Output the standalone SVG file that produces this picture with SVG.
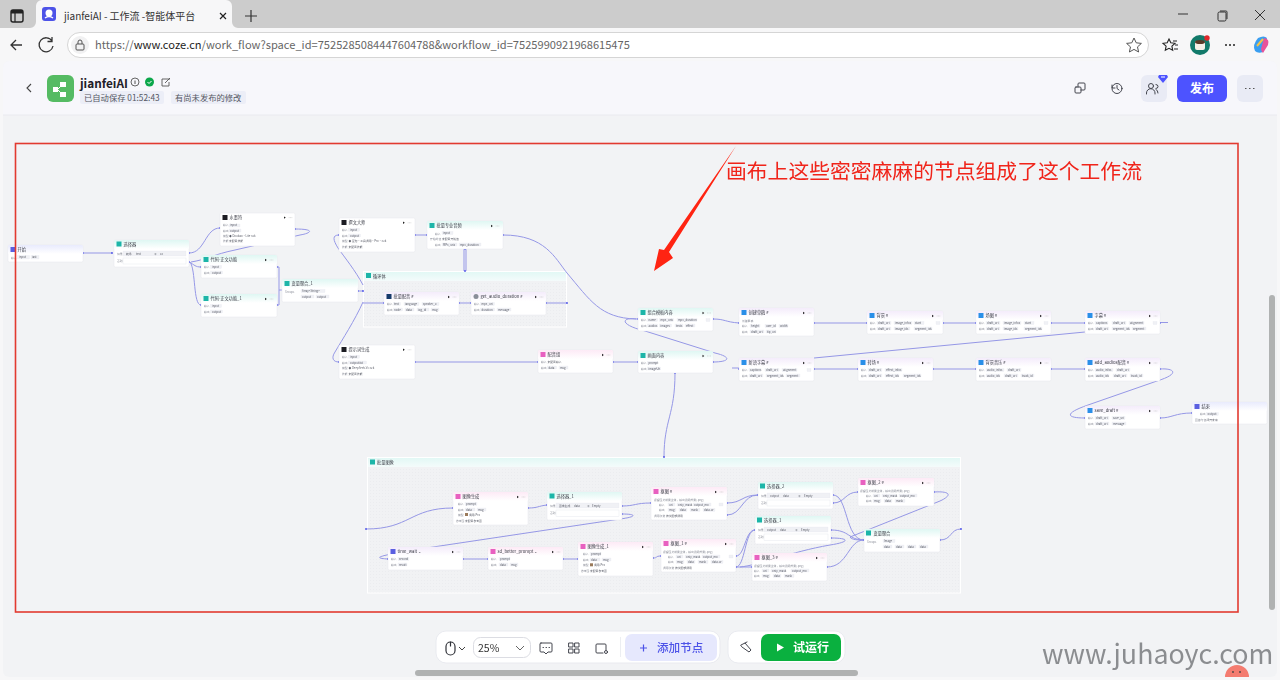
<svg xmlns="http://www.w3.org/2000/svg" width="1280" height="680" viewBox="0 0 1280 680">
<style>
text{font-family:"Noto Sans CJK SC","Noto Sans",sans-serif}
.card{fill:#fff;stroke:#e6e7ec;stroke-width:.5}
.t{font-size:4.2px;fill:#3a3c46}
.l{font-size:2.8px;fill:#8a8d98}
.x{font-size:2.8px;fill:#5a5d68}
.c{fill:#f0f1f5;stroke:#dfe1e8;stroke-width:.2}
.w{fill:#fff;stroke:#e2e4ea;stroke-width:.4}
.teal{fill:#1cb5a8}.blue{fill:#2a8fe8}.pink{fill:#e860c0}.dark{fill:#1b1b22}.purp{fill:#5a5fe0}.gray{fill:#8a8f99}
.cn path{fill:none;stroke:#9597e6;stroke-width:1}
.cn circle{fill:#4d53e8}
.box{fill:url(#dots);stroke:#fff;stroke-width:1}
.ic{fill:none;stroke:#2f3138;stroke-width:1.2;stroke-linecap:round;stroke-linejoin:round}
.ics{fill:none;stroke:#44464f;stroke-width:1;stroke-linecap:round;stroke-linejoin:round}
.bd{font-size:8.300px;fill:#555863}
</style>
<defs>
<linearGradient id="gt" x1="0" y1="0" x2="0" y2="1"><stop offset="0" stop-color="#dff7f3"/><stop offset="1" stop-color="#fff"/></linearGradient>
<linearGradient id="gb" x1="0" y1="0" x2="0" y2="1"><stop offset="0" stop-color="#f4ecfb"/><stop offset="1" stop-color="#fff"/></linearGradient>
<linearGradient id="gp" x1="0" y1="0" x2="0" y2="1"><stop offset="0" stop-color="#fdeaf6"/><stop offset="1" stop-color="#fff"/></linearGradient>
<linearGradient id="gu" x1="0" y1="0" x2="0" y2="1"><stop offset="0" stop-color="#e9ebfd"/><stop offset="1" stop-color="#fff"/></linearGradient>
<linearGradient id="gm" x1="0" y1="0" x2="0" y2="1"><stop offset="0" stop-color="#e2f8f5"/><stop offset="1" stop-color="#f4fbfb"/></linearGradient>
<pattern id="dots" width="3" height="3" patternUnits="userSpaceOnUse"><rect width="3" height="3" fill="#f1f2f4"/><circle cx="1.500" cy="1.500" r=".35" fill="#dcdde3"/></pattern>
<filter id="soft" x="-2%" y="-2%" width="104%" height="104%"><feGaussianBlur stdDeviation=".3"/></filter>
<g id="pd"><path d="M0,-1.200L1.800,0L0,1.200z" fill="#222"/><path d="M4.800,0h.6M6.200,0h.6M7.600,0h.6" stroke="#aaa" stroke-width=".6"/></g>
</defs>

<g id="browser">
<rect width="1280" height="680" fill="#f7f7f8"/>
<rect width="1280" height="28" fill="#cccccc"/>
<path d="M30,28a6,6 0 0 0 6,-6V6a6,6 0 0 1 6,-6H226a6,6 0 0 1 6,6V22a6,6 0 0 0 6,6z" fill="#f7f7f8"/>
<rect x="11" y="10" width="12" height="12" rx="2" fill="none" stroke="#222" stroke-width="1.400"/><rect x="11" y="10" width="12" height="3.500" fill="#222"/><path d="M15,13v9" stroke="#222" stroke-width="1.200"/>
<rect x="42" y="7" width="14" height="14" rx="3" fill="#4d53e8"/><circle cx="49" cy="13" r="3.500" fill="#fff"/><path d="M45,18q4,-3 8,0" stroke="#fff" stroke-width="1.400" fill="none"/>
<text x="64" y="20" font-size="10" fill="#333">jianfeiAI - 工作流 -智能体平台</text>
<path d="M220,13l6,6M226,13l-6,6" stroke="#222" stroke-width="1.200"/>
<path d="M245,16h12M251,10v12" stroke="#333" stroke-width="1.200"/>
<path d="M1178,14h10" stroke="#333"/><rect x="1218" y="12" width="8" height="9" rx="1.500" fill="none" stroke="#333"/><path d="M1220,11h6a1,1 0 0 1 1,1v7" fill="none" stroke="#333"/>
<path d="M1255,10l10,10M1265,10l-10,10" stroke="#333"/>
<path d="M22,45H11M16,40l-5,5l5,5" fill="none" stroke="#333" stroke-width="1.300"/>
<path d="M52,41a7,7 0 1 0 1,5M52,37v4.500h-4.500" fill="none" stroke="#333" stroke-width="1.300"/>
<rect x="67.500" y="32.500" width="1081" height="25" rx="12.500" fill="#fff" stroke="#d5d5d5"/>
<circle cx="80" cy="45" r="9" fill="#f1f1f2"/><rect x="76" y="44" width="8" height="6" rx="1" fill="none" stroke="#555"/><path d="M78,44v-2a2,2 0 0 1 4,0v2" fill="none" stroke="#555"/>
<text x="95" y="49" font-size="11.100" fill="#666" font-family="Noto Sans">https://<tspan fill="#222">www.coze.cn</tspan>/work_flow?space_id=7525285084447604788&amp;workflow_id=7525990921968615475</text>
<path d="M1134,38l2.200,4.800l5.200,.6l-3.900,3.500l1.100,5.100l-4.600,-2.600l-4.600,2.600l1.100,-5.100l-3.900,-3.500l5.200,-.6z" fill="none" stroke="#555"/>
<path d="M1169,39l1.800,3.800l4.200,.5l-3.100,2.900l.8,4.100l-3.700,-2l-3.700,2l.8,-4.100l-3.100,-2.900l4.200,-.5zM1173,41h4M1175,45h3M1174,49h4" fill="none" stroke="#222" stroke-width="1.100"/>
<circle cx="1200" cy="45" r="10" fill="#127a6a"/><rect x="1195" y="41" width="10" height="9" rx="2" fill="#f4efe6"/><ellipse cx="1200" cy="42" rx="5" ry="2" fill="#5a3a28"/><circle cx="1207" cy="38" r="2.700" fill="#e0292c"/>
<circle cx="1226" cy="45" r="1" fill="#222"/><circle cx="1230" cy="45" r="1" fill="#222"/><circle cx="1234" cy="45" r="1" fill="#222"/>
<path d="M1258,38q6,-3 9,0l-4,14q-5,2 -8,-1q-3,-6 3,-13z" fill="#3a9ef0"/><path d="M1264,38q6,1 4,7l-5,8q-2,-2 -2,-4z" fill="#e8549a"/><path d="M1257,46l6,-7" stroke="#f6c343" stroke-width="2"/>
</g>

<g id="page">
<rect x="3" y="61" width="1274" height="616" rx="6" fill="#f2f3f5"/>
<path d="M3,115V67a6,6 0 0 1 6,-6H1271a6,6 0 0 1 6,6V115z" fill="#f7f7fb"/>
<path d="M3,115H1277" stroke="#e9eaef"/>
<path d="M31,84l-4,4l4,4" fill="none" stroke="#444" stroke-width="1.100"/>
<rect x="47" y="75" width="27" height="27" rx="6" fill="#55bb63"/><path d="M60,82h6v5h-6zM60,92h6v5h-6zM53,87h5v5h-5z" fill="#fff"/><path d="M58,89l3,-3M58,90l3,3" stroke="#fff"/>
<text x="80" y="88" font-size="11.800" font-weight="700" fill="#1f2028">jianfeiAI</text>
<circle cx="135" cy="82" r="4" fill="none" stroke="#555" stroke-width=".9"/><path d="M135,80.500v3.500" stroke="#555"/>
<circle cx="149.500" cy="82" r="4.500" fill="#0ba74a"/><path d="M147.500,82l1.500,1.500l2.500,-2.500" stroke="#fff" fill="none"/>
<path d="M170,79h-8v7h7v-4M165,83l5,-5" fill="none" stroke="#555" stroke-width=".9"/>
<rect x="80" y="91" width="84" height="13" rx="2" fill="#eceef7"/><text x="84" y="100.500" class="bd">已自动保存 01:52:43</text>
<rect x="171" y="91" width="75" height="13" rx="2" fill="#eceef7"/><text x="175" y="100.500" class="bd">有尚未发布的修改</text>
<g class="ics"><rect x="1075" y="87" width="6" height="6" rx="1"/><path d="M1078,87v-3a1,1 0 0 1 1,-1h5a1,1 0 0 1 1,1v5a1,1 0 0 1 -1,1h-3"/><circle cx="1117" cy="88.500" r="5"/><path d="M1117,85.500v3l2,1.500M1112,85v3h3"/></g>
<rect x="1141" y="75" width="26" height="27" rx="6" fill="#e9ebf5"/><g class="ics"><circle cx="1151" cy="86" r="2.500"/><path d="M1146.500,94v-1a4,4 0 0 1 8.500,0v1M1156,84.500a2,2 0 0 1 0,4M1158,93q0,-3 -2,-3.500"/></g>
<path d="M1159,75h8l1,2l-5,6l-5,-6z" fill="#4d53ff"/><path d="M1161,77h4" stroke="#fff"/>
<rect x="1177" y="75" width="50" height="27" rx="6" fill="#4d53ff"/><text x="1202" y="93" text-anchor="middle" font-size="12" font-weight="700" fill="#fff">发布</text>
<rect x="1237" y="75" width="26" height="27" rx="6" fill="#e9ebf5"/><path d="M1245,88.500h1.500M1249,88.500h1.500M1253,88.500h1.500" stroke="#555"/>
</g>

<g id="canvas" filter="url(#soft)">
<g id="loop-box"><rect class="box" x="363.500" y="271.500" width="203" height="55.500"/><rect x="364" y="272" width="202" height="9" fill="url(#gm)"/><rect class="teal" x="366" y="273" width="5" height="5"/><text class="t" x="373" y="277.500">循环体</text></g>
<g id="batch-box"><rect class="box" x="367.500" y="457.500" width="593" height="135.500"/><rect x="368" y="458" width="592" height="9" fill="url(#gm)"/><rect class="teal" x="370" y="459.500" width="5" height="5"/><text class="t" x="377" y="464">批量图像</text></g>

<g id="connectors" class="cn">
<path d="M83,253H112"/>
<path d="M189,253C205,253 205,228 220,228"/>
<path d="M295,229C315,229 312,233 300,235L235,250C215,254 205,260 191,262"/>
<path d="M189,262C195,265 195,267 201,267"/>
<path d="M190,262C196,270 193,305 201,305"/>
<path d="M277,267H279V305H277"/><path d="M279,290H282"/>
<path d="M358,291H363"/>
<path d="M363,285C355,270 345,258 338,248C333,240 332,235 339,235"/>
<path d="M363,302C355,320 342,340 335,352C331,358 333,362 339,362"/>
<path d="M363,303H384"/>
<path d="M415,235H427"/>
<path d="M464,249V271M466,249V271"/>
<path d="M503,235C545,235 555,258 567,273C590,300 600,318 636,319"/>
<path d="M459,303H471M546,303H567"/>
<path d="M415,362H538M613,362H638"/>
<path d="M713,362C730,362 732,357 715,353L645,331C620,325 620,317 637,319"/>
<path d="M713,319C725,319 725,322 739,323"/>
<path d="M814,323H867M943,323H976M1051,323H1085"/>
<path d="M1160,322.500H1168"/>
<path d="M814,358L1085,332"/>
<path d="M732,368H739"/>
<path d="M814,369H858M933,369H976M1051,369H1085"/>
<path d="M1160,369C1175,368 1180,374 1157,381L1088,405C1065,413 1065,418 1085,418"/>
<path d="M1160,418C1172,418 1175,413 1192,413"/>
<path d="M675,373C675,415 664,420 664,457"/>
<path d="M366,529C410,529 410,508 453,508"/>
<path d="M528,508C538,508 538,506 547,505"/>
<path d="M622,506C635,506 635,503 651,503"/>
<path d="M622,514C638,514 636,517 620,519L433,547C375,556 372,558 388,559"/>
<path d="M463,559H488M563,559H578"/>
<path d="M653,558C658,558 655,556 661,556"/>
<path d="M727,503C742,503 742,495 758,495"/>
<path d="M727,515C742,515 742,495 758,495"/>
<path d="M833,495C848,495 845,540 864,540"/>
<path d="M833,503C845,503 845,492 858,492"/>
<path d="M934,492C950,491 953,495 940,501L850,537C852,540 858,540 864,540"/>
<path d="M831,530C850,530 848,540 864,540"/>
<path d="M831,538C850,538 850,542 830,545C790,552 760,565 740,567"/>
<path d="M736,556C745,556 745,530 755,530"/>
<path d="M736,567C745,567 745,530 755,530"/>
<path d="M736,567H752"/>
<path d="M827,567C848,567 848,540 864,540"/>
<path d="M940,540C952,540 950,529 961,529"/>
<circle cx="83" cy="253" r=".9"/><circle cx="112" cy="253" r=".9"/><circle cx="189" cy="253" r=".9"/><circle cx="189" cy="262" r=".9"/><circle cx="220" cy="228" r=".9"/><circle cx="295" cy="229" r=".9"/><circle cx="201" cy="267" r=".9"/><circle cx="201" cy="305" r=".9"/><circle cx="277" cy="267" r=".9"/><circle cx="277" cy="305" r=".9"/><circle cx="358" cy="291" r=".9"/><circle cx="363" cy="291" r=".9"/><circle cx="339" cy="235" r=".9"/><circle cx="339" cy="362" r=".9"/><circle cx="415" cy="235" r=".9"/><circle cx="427" cy="235" r=".9"/><circle cx="503" cy="235" r=".9"/><circle cx="465" cy="249" r=".9"/><circle cx="465" cy="271" r=".9"/><circle cx="384" cy="303" r=".9"/><circle cx="459" cy="303" r=".9"/><circle cx="471" cy="303" r=".9"/><circle cx="546" cy="303" r=".9"/><circle cx="567" cy="303" r=".9"/><circle cx="415" cy="362" r=".9"/><circle cx="538" cy="362" r=".9"/><circle cx="613" cy="362" r=".9"/><circle cx="638" cy="362" r=".9"/><circle cx="638" cy="319" r=".9"/><circle cx="713" cy="319" r=".9"/><circle cx="713" cy="362" r=".9"/><circle cx="739" cy="323" r=".9"/><circle cx="814" cy="323" r=".9"/><circle cx="867" cy="323" r=".9"/><circle cx="943" cy="323" r=".9"/><circle cx="976" cy="323" r=".9"/><circle cx="1051" cy="323" r=".9"/><circle cx="1085" cy="323" r=".9"/><circle cx="1160" cy="323" r=".9"/><circle cx="739" cy="369" r=".9"/><circle cx="814" cy="369" r=".9"/><circle cx="858" cy="369" r=".9"/><circle cx="933" cy="369" r=".9"/><circle cx="976" cy="369" r=".9"/><circle cx="1051" cy="369" r=".9"/><circle cx="1085" cy="369" r=".9"/><circle cx="1160" cy="369" r=".9"/><circle cx="1085" cy="418" r=".9"/><circle cx="1160" cy="418" r=".9"/><circle cx="1192" cy="413" r=".9"/><circle cx="675" cy="373" r=".9"/><circle cx="664" cy="457" r=".9"/><circle cx="366" cy="529" r=".9"/><circle cx="453" cy="508" r=".9"/><circle cx="528" cy="508" r=".9"/><circle cx="547" cy="505" r=".9"/><circle cx="622" cy="506" r=".9"/><circle cx="622" cy="514" r=".9"/><circle cx="651" cy="503" r=".9"/><circle cx="388" cy="559" r=".9"/><circle cx="463" cy="559" r=".9"/><circle cx="488" cy="559" r=".9"/><circle cx="563" cy="559" r=".9"/><circle cx="578" cy="559" r=".9"/><circle cx="653" cy="558" r=".9"/><circle cx="661" cy="556" r=".9"/><circle cx="727" cy="503" r=".9"/><circle cx="727" cy="515" r=".9"/><circle cx="758" cy="495" r=".9"/><circle cx="833" cy="495" r=".9"/><circle cx="833" cy="503" r=".9"/><circle cx="858" cy="492" r=".9"/><circle cx="934" cy="492" r=".9"/><circle cx="831" cy="530" r=".9"/><circle cx="831" cy="538" r=".9"/><circle cx="755" cy="530" r=".9"/><circle cx="736" cy="556" r=".9"/><circle cx="736" cy="567" r=".9"/><circle cx="752" cy="567" r=".9"/><circle cx="827" cy="567" r=".9"/><circle cx="864" cy="540" r=".9"/><circle cx="940" cy="540" r=".9"/><circle cx="961" cy="529" r=".9"/>
</g>

<g id="n-start" transform="translate(8,245)"><rect class="card" width="75" height="17" rx="1.500"/><rect width="75" height="9" rx="1.500" fill="url(#gu)"/><rect class="purp" x="2.500" y="2" width="5" height="5"/><text class="t" x="9.500" y="6.400">开始</text><text class="l" x="3" y="13.500">输入</text><rect class="c" x="9.500" y="10.500" width="12" height="3.500"/><text class="x" x="11" y="13.300">input</text><rect class="c" x="23" y="10.500" width="8" height="3.500"/><text class="x" x="24" y="13.300">last</text></g>
<g id="n-sel" transform="translate(114,240)"><rect class="card" width="75" height="27" rx="1.500"/><rect width="75" height="9" rx="1.500" fill="url(#gt)"/><rect class="teal" x="2.500" y="1.500" width="5" height="5"/><text class="t" x="9.500" y="6">选择器</text><rect class="c" x="9" y="11" width="63" height="5"/><text class="l" x="3" y="14.500">如果</text><text class="x" x="12" y="14.500">转场</text><text class="x" x="22" y="14.500">text</text><text class="x" x="40" y="14.500">≠</text><text class="x" x="46" y="14.500">10</text><rect class="w" x="9" y="18" width="63" height="6"/><text class="l" x="3" y="22">否则</text></g>
<g id="n-ink" transform="translate(220,213)"><rect class="card" width="75" height="33" rx="1.500"/><rect class="dark" x="2.500" y="2" width="5" height="5"/><text class="t" x="9.500" y="6.400">水墨符</text><use href="#pd" x="64" y="4.600"/><text class="l" x="3" y="13.300">输入</text><rect class="c" x="9" y="11" width="11" height="3"/><text class="x" x="10" y="13.300">input</text><text class="l" x="3" y="18.600">输出</text><rect class="c" x="9" y="16" width="12" height="3"/><text class="x" x="10" y="18.600">output</text><text class="l" x="3" y="24">模型</text><text class="x" x="9" y="24">◆ Doubao·Lite 32k</text><text class="l" x="3" y="29.400">技能</text><text class="x" x="9" y="29.400">未配置技能</text></g>
<g id="n-code" transform="translate(201,255)"><rect class="card" width="76" height="23" rx="1.500"/><rect width="76" height="9" rx="1.500" fill="url(#gt)"/><rect class="teal" x="2.500" y="2" width="5" height="5"/><text class="t" x="9.500" y="6.400">代码-正文功能</text><use href="#pd" x="64" y="5"/><text class="l" x="3" y="13.200">输入</text><rect class="c" x="9.500" y="10.500" width="11" height="3"/><text class="x" x="11" y="13.200">input</text><text class="l" x="3" y="18.800">输出</text><rect class="c" x="9.500" y="16" width="12" height="3"/><text class="x" x="11" y="18.800">output</text></g>
<g id="n-code1" transform="translate(201,294)"><rect class="card" width="76" height="23" rx="1.500"/><rect width="76" height="9" rx="1.500" fill="url(#gt)"/><rect class="teal" x="2.500" y="2" width="5" height="5"/><text class="t" x="9.500" y="6.400">代码-正文功能_1</text><use href="#pd" x="64" y="5"/><text class="l" x="3" y="13.200">输入</text><rect class="c" x="9.500" y="10.500" width="11" height="3"/><text class="x" x="11" y="13.200">input</text><text class="l" x="3" y="18.800">输出</text><rect class="c" x="9.500" y="16" width="12" height="3"/><text class="x" x="11" y="18.800">output</text></g>
<g id="n-agg1" transform="translate(282,279)"><rect class="card" width="76" height="23" rx="1.500"/><rect width="76" height="9" rx="1.500" fill="url(#gt)"/><rect class="teal" x="2.500" y="2" width="5" height="5"/><text class="t" x="9.500" y="6.400">变量聚合_1</text><text class="l" x="3" y="13.500">Group1</text><rect class="c" x="19" y="10.500" width="24" height="3"/><text class="x" x="20" y="13.200">Array&lt;String&gt;</text><rect class="c" x="19" y="16" width="13" height="3"/><text class="x" x="20" y="18.800">output</text><rect class="c" x="34" y="16" width="13" height="3"/><text class="x" x="35" y="18.800">output</text></g>
<g id="n-write" transform="translate(339,218)"><rect class="card" width="76" height="34" rx="1.500"/><rect class="dark" x="2.500" y="2" width="5" height="5"/><text class="t" x="9.500" y="6.400">撰文大师</text><use href="#pd" x="64" y="4.800"/><text class="l" x="3" y="13">输入</text><rect class="c" x="9.500" y="10.200" width="11" height="3"/><text class="x" x="11" y="13">input</text><text class="l" x="3" y="18.500">输出</text><rect class="c" x="9.500" y="16" width="12" height="3"/><text class="x" x="11" y="18.500">output</text><text class="l" x="3" y="24">模型</text><text class="x" x="9.500" y="24">◆ 豆包·工具调用·Pro·32k</text><text class="l" x="3" y="29.500">技能</text><text class="x" x="9.500" y="29.500">未配置技能</text></g>
<g id="n-batch" transform="translate(427,221)"><rect class="card" width="76" height="28" rx="1.500"/><rect width="76" height="9" rx="1.500" fill="url(#gt)"/><rect class="teal" x="2.500" y="2" width="5" height="5"/><text class="t" x="9.500" y="6.400">批量专业音频</text><use href="#pd" x="64" y="5"/><text class="l" x="8" y="13.500">输入</text><rect class="c" x="15" y="10.500" width="11" height="3"/><text class="x" x="16" y="13.300">input</text><text class="l" x="3" y="19">开始的值</text><text class="x" x="15" y="19">未配置开始值</text><text class="l" x="8" y="24.500">输出</text><rect class="c" x="15" y="22" width="15" height="3"/><text class="x" x="16" y="24.500">MP3_urls</text><rect class="c" x="32" y="22" width="22" height="3"/><text class="x" x="33" y="24.500">mp3_duration</text></g>
<g id="n-voice" transform="translate(384,292)"><rect class="card" width="75" height="23" rx="1.500"/><rect width="75" height="9" rx="1.500" fill="url(#gb)"/><rect x="2.500" y="2" width="5" height="5" fill="#173a6b"/><text class="t" x="9.500" y="6.400">批量配音 #</text><use href="#pd" x="64" y="5"/><text class="l" x="3" y="13.200">输入</text><rect class="c" x="9.500" y="10.500" width="7" height="3"/><text class="x" x="10" y="13.200">text</text><rect class="c" x="20" y="10.500" width="15" height="3"/><text class="x" x="21" y="13.200">language</text><rect class="c" x="38" y="10.500" width="17" height="3"/><text class="x" x="39" y="13.200">speaker_u</text><text class="l" x="3" y="18.800">输出</text><rect class="c" x="9.500" y="16" width="9" height="3"/><text class="x" x="10" y="18.800">node</text><rect class="c" x="21" y="16" width="9" height="3"/><text class="x" x="22" y="18.800">data</text><rect class="c" x="33" y="16" width="12" height="3"/><text class="x" x="34" y="18.800">log_id</text><rect class="c" x="47" y="16" width="8" height="3"/><text class="x" x="48" y="18.800">msg</text></g>
<g id="n-dur" transform="translate(471,292)"><rect class="card" width="75" height="23" rx="1.500"/><rect width="75" height="9" rx="1.500" fill="url(#gb)"/><circle class="gray" cx="5" cy="4.500" r="2.500"/><text class="t" x="9.500" y="6.400">get_audio_duration #</text><use href="#pd" x="64" y="5"/><text class="l" x="3" y="13.200">输入</text><rect class="c" x="9.500" y="10.500" width="14" height="3"/><text class="x" x="10.500" y="13.200">mp3_url</text><text class="l" x="3" y="18.800">输出</text><rect class="c" x="9.500" y="16" width="14" height="3"/><text class="x" x="10.500" y="18.800">duration</text><rect class="c" x="26" y="16" width="14" height="3"/><text class="x" x="27" y="18.800">message</text></g>
<g id="n-prompt" transform="translate(339,345)"><rect class="card" width="76" height="34" rx="1.500"/><rect class="dark" x="2.500" y="2" width="5" height="5"/><text class="t" x="9.500" y="6.400">提示词生成</text><use href="#pd" x="64" y="4.800"/><text class="l" x="3" y="13">输入</text><rect class="c" x="9.500" y="10.200" width="11" height="3"/><text class="x" x="11" y="13">input</text><text class="l" x="3" y="18.500">输出</text><rect class="c" x="9.500" y="16" width="18" height="3"/><text class="x" x="11" y="18.500">outputlist</text><text class="l" x="3" y="24">模型</text><text class="x" x="9.500" y="24">◆ DeepSeek-V3 32k</text><text class="l" x="3" y="29.500">技能</text><text class="x" x="9.500" y="29.500">未配置技能</text></g>
<g id="n-dub" transform="translate(538,350)"><rect class="card" width="75" height="23" rx="1.500"/><rect width="75" height="9" rx="1.500" fill="url(#gp)"/><rect class="pink" x="2.500" y="2" width="5" height="5"/><text class="t" x="9.500" y="6.400">配音组</text><use href="#pd" x="64" y="5"/><text class="l" x="3" y="13.300">输入</text><text class="x" x="9.500" y="13.300">未配置输入</text><text class="l" x="3" y="18.800">输出</text><rect class="c" x="9.500" y="16" width="9" height="3"/><text class="x" x="10.500" y="18.800">data</text><rect class="c" x="21" y="16" width="9" height="3"/><text class="x" x="22" y="18.800">msg</text></g>
<g id="n-tl" transform="translate(638,308)"><rect class="card" width="75" height="23" rx="1.500"/><rect width="75" height="9" rx="1.500" fill="url(#gt)"/><rect class="teal" x="2.500" y="2" width="5" height="5"/><text class="t" x="9.500" y="6.400">组合模板内容</text><use href="#pd" x="64.500" y="5"/><text class="l" x="3" y="13.300">输入</text><rect class="c" x="9.500" y="10.500" width="10" height="3"/><text class="x" x="10.500" y="13.200">name</text><rect class="c" x="21.500" y="10.500" width="14" height="3"/><text class="x" x="22.500" y="13.200">mp3_urls</text><rect class="c" x="39" y="10.500" width="20" height="3"/><text class="x" x="40" y="13.200">mp3_duration</text><rect class="c" x="68" y="10.500" width="4" height="3"/><text class="l" x="3" y="18.800">输出</text><rect class="c" x="9.500" y="16" width="10" height="3"/><text class="x" x="10.500" y="18.800">audios</text><rect class="c" x="21.500" y="16" width="12" height="3"/><text class="x" x="22.500" y="18.800">images</text><rect class="c" x="37" y="16" width="8" height="3"/><text class="x" x="38" y="18.800">texts</text><rect class="c" x="47" y="16" width="10" height="3"/><text class="x" x="48" y="18.800">effect</text></g>
<g id="n-draft" transform="translate(739,308)"><rect class="card" width="75" height="28" rx="1.500"/><rect width="75" height="9" rx="1.500" fill="url(#gb)"/><rect class="blue" x="2.500" y="2" width="5" height="5"/><text class="t" x="9.500" y="6.400">创建草稿 #</text><use href="#pd" x="64" y="5"/><text class="l" x="3" y="13.500">创建草稿</text><text class="l" x="3" y="19">输入</text><rect class="c" x="11" y="16.400" width="10" height="3"/><text class="x" x="12" y="19">height</text><rect class="c" x="26" y="16.400" width="11" height="3"/><text class="x" x="27" y="19">user_id</text><rect class="c" x="40" y="16.400" width="9" height="3"/><text class="x" x="41" y="19">width</text><text class="l" x="3" y="24.500">输出</text><rect class="c" x="11" y="22" width="14" height="3"/><text class="x" x="12" y="24.500">draft_url</text><rect class="c" x="27" y="22" width="10" height="3"/><text class="x" x="28" y="24.500">tip_url</text></g>
<g id="n-bg" transform="translate(867,311)"><rect class="card" width="76" height="23" rx="1.500"/><rect width="76" height="9" rx="1.500" fill="url(#gb)"/><rect class="blue" x="2.500" y="2" width="5" height="5"/><text class="t" x="9.500" y="6.400">背景 #</text><use href="#pd" x="65" y="5"/><text class="l" x="3" y="13.300">输入</text><rect class="c" x="10" y="10.500" width="14" height="3"/><text class="x" x="11" y="13.200">draft_url</text><rect class="c" x="27" y="10.500" width="18" height="3"/><text class="x" x="28" y="13.200">image_infos</text><rect class="c" x="47" y="10.500" width="10" height="3"/><text class="x" x="48" y="13.200">start</text><rect class="c" x="69" y="10.500" width="4" height="3"/><text class="l" x="3" y="18.800">输出</text><rect class="c" x="10" y="16" width="14" height="3"/><text class="x" x="11" y="18.800">draft_url</text><rect class="c" x="27" y="16" width="16" height="3"/><text class="x" x="28" y="18.800">image_ids</text><rect class="c" x="47" y="16" width="18" height="3"/><text class="x" x="48" y="18.800">segment_ids</text></g>
<g id="n-pic" transform="translate(976,311)"><rect class="card" width="75" height="23" rx="1.500"/><rect width="75" height="9" rx="1.500" fill="url(#gb)"/><rect class="blue" x="2.500" y="2" width="5" height="5"/><text class="t" x="9.500" y="6.400">场图 #</text><use href="#pd" x="64" y="5"/><text class="l" x="3" y="13.300">输入</text><rect class="c" x="10" y="10.500" width="14" height="3"/><text class="x" x="11" y="13.200">draft_url</text><rect class="c" x="27" y="10.500" width="18" height="3"/><text class="x" x="28" y="13.200">image_infos</text><rect class="c" x="48" y="10.500" width="10" height="3"/><text class="x" x="49" y="13.200">start</text><rect class="c" x="68" y="10.500" width="4" height="3"/><text class="l" x="3" y="18.800">输出</text><rect class="c" x="10" y="16" width="14" height="3"/><text class="x" x="11" y="18.800">draft_url</text><rect class="c" x="27" y="16" width="15" height="3"/><text class="x" x="28" y="18.800">image_ids</text><rect class="c" x="48" y="16" width="18" height="3"/><text class="x" x="49" y="18.800">segment_ids</text></g>
<g id="n-sub" transform="translate(1085,311)"><rect class="card" width="75" height="23" rx="1.500"/><rect width="75" height="9" rx="1.500" fill="url(#gb)"/><rect class="blue" x="2.500" y="2" width="5" height="5"/><text class="t" x="9.500" y="6.400">字幕 #</text><use href="#pd" x="64" y="5"/><text class="l" x="3" y="13.300">输入</text><rect class="c" x="10" y="10.500" width="13" height="3"/><text class="x" x="11" y="13.200">captions</text><rect class="c" x="27" y="10.500" width="14" height="3"/><text class="x" x="28" y="13.200">draft_url</text><rect class="c" x="44" y="10.500" width="15" height="3"/><text class="x" x="45" y="13.200">alignment</text><rect class="c" x="68" y="10.500" width="4" height="3"/><text class="l" x="3" y="18.800">输出</text><rect class="c" x="10" y="16" width="14" height="3"/><text class="x" x="11" y="18.800">draft_url</text><rect class="c" x="27" y="16" width="18" height="3"/><text class="x" x="28" y="18.800">segment_ids</text><rect class="c" x="47" y="16" width="14" height="3"/><text class="x" x="48" y="18.800">segment</text></g>
<g id="n-img" transform="translate(638,351)"><rect class="card" width="75" height="22" rx="1.500"/><rect width="75" height="9" rx="1.500" fill="url(#gt)"/><rect class="teal" x="2.500" y="2" width="5" height="5"/><text class="t" x="9.500" y="6.400">画面内容</text><use href="#pd" x="64.500" y="5"/><text class="l" x="3" y="13.200">输入</text><rect class="c" x="9.500" y="10.500" width="10" height="3"/><text class="x" x="10.500" y="13.200">prompt</text><text class="l" x="3" y="18.500">输出</text><rect class="c" x="9.500" y="16" width="13" height="3"/><text class="x" x="10.500" y="18.500">imageUrl</text></g>
<g id="n-newsub" transform="translate(739,358)"><rect class="card" width="75" height="23" rx="1.500"/><rect width="75" height="9" rx="1.500" fill="url(#gb)"/><rect class="blue" x="2.500" y="2" width="5" height="5"/><text class="t" x="9.500" y="6.400">新语字幕 #</text><use href="#pd" x="64" y="5"/><text class="l" x="3" y="13.300">输入</text><rect class="c" x="10" y="10.500" width="12" height="3"/><text class="x" x="11" y="13.200">captions</text><rect class="c" x="26" y="10.500" width="14" height="3"/><text class="x" x="27" y="13.200">draft_url</text><rect class="c" x="43" y="10.500" width="15" height="3"/><text class="x" x="44" y="13.200">alignment</text><rect class="c" x="68" y="10.500" width="4" height="3"/><text class="l" x="3" y="18.800">输出</text><rect class="c" x="10" y="16" width="14" height="3"/><text class="x" x="11" y="18.800">draft_url</text><rect class="c" x="27" y="16" width="17" height="3"/><text class="x" x="28" y="18.800">segment_ids</text><rect class="c" x="47" y="16" width="14" height="3"/><text class="x" x="48" y="18.800">segment</text></g>
<g id="n-turn" transform="translate(858,358)"><rect class="card" width="75" height="23" rx="1.500"/><rect width="75" height="9" rx="1.500" fill="url(#gb)"/><rect class="blue" x="2.500" y="2" width="5" height="5"/><text class="t" x="9.500" y="6.400">转场 #</text><use href="#pd" x="64" y="5"/><text class="l" x="3" y="13.300">输入</text><rect class="c" x="10" y="10.500" width="14" height="3"/><text class="x" x="11" y="13.200">draft_url</text><rect class="c" x="27" y="10.500" width="17" height="3"/><text class="x" x="28" y="13.200">effect_infos</text><text class="l" x="3" y="18.800">输出</text><rect class="c" x="10" y="16" width="14" height="3"/><text class="x" x="11" y="18.800">draft_url</text><rect class="c" x="27" y="16" width="14" height="3"/><text class="x" x="28" y="18.800">effect_ids</text><rect class="c" x="45" y="16" width="18" height="3"/><text class="x" x="46" y="18.800">segment_ids</text></g>
<g id="n-bgm" transform="translate(976,358)"><rect class="card" width="75" height="23" rx="1.500"/><rect width="75" height="9" rx="1.500" fill="url(#gb)"/><rect class="blue" x="2.500" y="2" width="5" height="5"/><text class="t" x="9.500" y="6.400">背景音乐 #</text><use href="#pd" x="64" y="5"/><text class="l" x="3" y="13.300">输入</text><rect class="c" x="10" y="10.500" width="18" height="3"/><text class="x" x="11" y="13.200">audio_infos</text><rect class="c" x="31" y="10.500" width="14" height="3"/><text class="x" x="32" y="13.200">draft_url</text><text class="l" x="3" y="18.800">输出</text><rect class="c" x="10" y="16" width="14" height="3"/><text class="x" x="11" y="18.800">audio_ids</text><rect class="c" x="28" y="16" width="14" height="3"/><text class="x" x="29" y="18.800">draft_url</text><rect class="c" x="45" y="16" width="13" height="3"/><text class="x" x="46" y="18.800">track_id</text></g>
<g id="n-audio" transform="translate(1085,358)"><rect class="card" width="75" height="23" rx="1.500"/><rect width="75" height="9" rx="1.500" fill="url(#gb)"/><rect class="blue" x="2.500" y="2" width="5" height="5"/><text class="t" x="9.500" y="6.400">add_audios配音 #</text><use href="#pd" x="64" y="5"/><text class="l" x="3" y="13.300">输入</text><rect class="c" x="10" y="10.500" width="18" height="3"/><text class="x" x="11" y="13.200">audio_infos</text><rect class="c" x="31" y="10.500" width="14" height="3"/><text class="x" x="32" y="13.200">draft_url</text><text class="l" x="3" y="18.800">输出</text><rect class="c" x="10" y="16" width="14" height="3"/><text class="x" x="11" y="18.800">audio_ids</text><rect class="c" x="28" y="16" width="14" height="3"/><text class="x" x="29" y="18.800">draft_url</text><rect class="c" x="45" y="16" width="13" height="3"/><text class="x" x="46" y="18.800">track_id</text></g>
<g id="n-save" transform="translate(1085,406)"><rect class="card" width="75" height="23" rx="1.500"/><rect width="75" height="9" rx="1.500" fill="url(#gb)"/><rect class="blue" x="2.500" y="2" width="5" height="5"/><text class="t" x="9.500" y="6.400">save_draft #</text><use href="#pd" x="64" y="5"/><text class="l" x="3" y="13.300">输入</text><rect class="c" x="10" y="10.500" width="14" height="3"/><text class="x" x="11" y="13.200">draft_url</text><rect class="c" x="27" y="10.500" width="13" height="3"/><text class="x" x="28" y="13.200">save_url</text><text class="l" x="3" y="18.800">输出</text><rect class="c" x="10" y="16" width="14" height="3"/><text class="x" x="11" y="18.800">draft_url</text><rect class="c" x="27" y="16" width="14" height="3"/><text class="x" x="28" y="18.800">message</text></g>
<g id="n-end" transform="translate(1192,402)"><rect class="card" width="75" height="22" rx="1.500"/><rect width="75" height="9" rx="1.500" fill="url(#gu)"/><rect class="purp" x="2.500" y="2" width="5" height="5"/><text class="t" x="9.500" y="6.400">结束</text><text class="l" x="8" y="13.300">输出</text><rect class="c" x="14.500" y="10.500" width="12" height="3"/><text class="x" x="15.500" y="13.200">output</text><text class="l" x="3" y="18.800">回答内容</text><text class="x" x="14.500" y="18.800">闭开未来</text></g>
<g id="n-gen" transform="translate(453,492)"><rect class="card" width="75" height="33" rx="1.500"/><rect width="75" height="9" rx="1.500" fill="url(#gp)"/><rect class="pink" x="2.500" y="2" width="5" height="5"/><text class="t" x="9.500" y="6.400">图像生成</text><use href="#pd" x="64" y="5"/><text class="l" x="5" y="13.300">输入</text><rect class="c" x="12" y="10.500" width="12" height="3"/><text class="x" x="13" y="13.200">prompt</text><text class="l" x="5" y="18.800">输出</text><rect class="c" x="12" y="16" width="10" height="3"/><text class="x" x="13" y="18.800">data</text><rect class="c" x="24" y="16" width="9" height="3"/><text class="x" x="25" y="18.800">msg</text><text class="l" x="5" y="24">模型</text><rect x="12" y="21" width="3" height="3" fill="#9a7a5a"/><text class="x" x="16" y="24">通用-Pro</text><text class="l" x="3" y="29.500">参考图</text><text class="x" x="12" y="29.500">未配置参考图</text></g>
<g id="n-sel1" transform="translate(547,492)"><rect class="card" width="75" height="28" rx="1.500"/><rect width="75" height="9" rx="1.500" fill="url(#gt)"/><rect class="teal" x="2.500" y="1.500" width="5" height="5"/><text class="t" x="9.500" y="6">选择器_1</text><rect class="c" x="9" y="11" width="63" height="5"/><text class="l" x="3" y="14.500">如果</text><text class="x" x="12" y="14.500">图像生成</text><text class="x" x="27" y="14.500">data</text><text class="x" x="40" y="14.500">≠</text><text class="x" x="45" y="14.500">Empty</text><rect class="w" x="9" y="18" width="63" height="6.500"/><text class="l" x="3" y="22">否则</text></g>
<g id="n-cut" transform="translate(651,487)"><rect class="card" width="76" height="33" rx="1.500"/><rect width="76" height="9" rx="1.500" fill="url(#gp)"/><rect class="pink" x="2.500" y="2" width="5" height="5"/><text class="t" x="9.500" y="6.400">抠图 #</text><use href="#pd" x="64" y="5"/><text class="l" x="3" y="13.500">保留图片前景主体，输出透明背景(.png)</text><text class="l" x="8" y="18.800">输入</text><rect class="c" x="17" y="16" width="7" height="3"/><text class="x" x="18" y="18.800">url</text><rect class="c" x="26" y="16" width="14" height="3"/><text class="x" x="27" y="18.800">only_mask</text><rect class="c" x="42" y="16" width="18" height="3"/><text class="x" x="43" y="18.800">output_mo</text><rect class="c" x="68" y="16" width="4" height="3"/><text class="l" x="8" y="24">输出</text><rect class="c" x="17" y="21.400" width="8" height="3"/><text class="x" x="18" y="24">msg</text><rect class="c" x="28" y="21.400" width="8" height="3"/><text class="x" x="29" y="24">data</text><rect class="c" x="39" y="21.400" width="10" height="3"/><text class="x" x="40" y="24">mask</text><rect class="c" x="52" y="21.400" width="12" height="3"/><text class="x" x="53" y="24">data-ur</text><text class="l" x="3" y="29.500">调用次数</text><text class="x" x="15" y="29.500">按次配额调用</text></g>
<g id="n-sel2" transform="translate(758,482)"><rect class="card" width="75" height="27" rx="1.500"/><rect width="75" height="9" rx="1.500" fill="url(#gt)"/><rect class="teal" x="2" y="1.500" width="5" height="5"/><text class="t" x="9" y="6">选择器_2</text><rect class="c" x="9" y="11" width="63" height="5"/><text class="l" x="3" y="14.500">如果</text><text class="x" x="12" y="14.500">output</text><text class="x" x="25" y="14.500">data</text><text class="x" x="40" y="14.500">≠</text><text class="x" x="46" y="14.500">Empty</text><rect class="w" x="9" y="18" width="63" height="6"/><text class="l" x="3" y="22">否则</text></g>
<g id="n-sel3" transform="translate(755,516)"><rect class="card" width="76" height="28" rx="1.500"/><rect width="76" height="9" rx="1.500" fill="url(#gt)"/><rect class="teal" x="2" y="1.500" width="5" height="5"/><text class="t" x="9" y="6">选择器_1</text><rect class="c" x="9" y="11" width="64" height="5"/><text class="l" x="3" y="14.500">如果</text><text class="x" x="12" y="14.500">output</text><text class="x" x="25" y="14.500">data</text><text class="x" x="40" y="14.500">≠</text><text class="x" x="46" y="14.500">Empty</text><rect class="w" x="9" y="18" width="64" height="6.500"/><text class="l" x="3" y="22">否则</text></g>
<g id="n-cut2" transform="translate(858,478)"><rect class="card" width="76" height="28" rx="1.500"/><rect width="76" height="9" rx="1.500" fill="url(#gp)"/><rect class="pink" x="2.500" y="2" width="5" height="5"/><text class="t" x="9.500" y="6.400">抠图_2 #</text><use href="#pd" x="64" y="5"/><text class="l" x="2" y="13.500">保留图片前景主体，输出透明背景(.png)</text><text class="l" x="8" y="18.800">输入</text><rect class="c" x="15" y="16" width="7" height="3"/><text class="x" x="16" y="18.800">url</text><rect class="c" x="24" y="16" width="14" height="3"/><text class="x" x="25" y="18.800">only_mask</text><rect class="c" x="41" y="16" width="18" height="3"/><text class="x" x="42" y="18.800">output_mo</text><text class="l" x="8" y="24">输出</text><rect class="c" x="15" y="21.400" width="8" height="3"/><text class="x" x="16" y="24">msg</text><rect class="c" x="26" y="21.400" width="8" height="3"/><text class="x" x="27" y="24">data</text><rect class="c" x="37" y="21.400" width="10" height="3"/><text class="x" x="38" y="24">mask</text></g>
<g id="n-agg" transform="translate(864,529)"><rect class="card" width="76" height="23" rx="1.500"/><rect width="76" height="9" rx="1.500" fill="url(#gt)"/><rect class="teal" x="2" y="1.500" width="5" height="5"/><text class="t" x="9.500" y="6">变量聚合</text><text class="l" x="3" y="13.500">Group1</text><rect class="c" x="19" y="10.500" width="12" height="3"/><text class="x" x="20" y="13.200">Image</text><rect class="c" x="19" y="16" width="9" height="3"/><text class="x" x="20" y="18.800">data</text><rect class="c" x="31" y="16" width="9" height="3"/><text class="x" x="32" y="18.800">data</text><rect class="c" x="43" y="16" width="9" height="3"/><text class="x" x="44" y="18.800">data</text><rect class="c" x="55" y="16" width="9" height="3"/><text class="x" x="56" y="18.800">data</text></g>
<g id="n-wait" transform="translate(388,547)"><rect class="card" width="75" height="23" rx="1.500"/><rect width="75" height="9" rx="1.500" fill="url(#gb)"/><rect class="purp" x="2.500" y="2" width="5" height="5"/><text class="t" x="9.500" y="6.400">time_wait ⌄</text><use href="#pd" x="64" y="5"/><text class="l" x="3" y="13.300">输入</text><rect class="c" x="10" y="10.500" width="11" height="3"/><text class="x" x="11" y="13.200">second</text><text class="l" x="3" y="18.800">输出</text><rect class="c" x="10" y="16" width="9" height="3"/><text class="x" x="11" y="18.800">result</text></g>
<g id="n-sd" transform="translate(488,547)"><rect class="card" width="75" height="23" rx="1.500"/><rect width="75" height="9" rx="1.500" fill="url(#gp)"/><rect class="pink" x="2.500" y="2" width="5" height="5"/><text class="t" x="9.500" y="6.400">sd_better_prompt ⌄</text><use href="#pd" x="64" y="5"/><text class="l" x="3" y="13.300">输入</text><rect class="c" x="11" y="10.500" width="11" height="3"/><text class="x" x="12" y="13.200">prompt</text><text class="l" x="3" y="18.800">输出</text><rect class="c" x="11" y="16" width="9" height="3"/><text class="x" x="12" y="18.800">data</text><rect class="c" x="22" y="16" width="8" height="3"/><text class="x" x="23" y="18.800">msg</text></g>
<g id="n-gen1" transform="translate(578,542)"><rect class="card" width="75" height="34" rx="1.500"/><rect width="75" height="9" rx="1.500" fill="url(#gp)"/><rect class="pink" x="2.500" y="2" width="5" height="5"/><text class="t" x="9.500" y="6.400">图像生成_1</text><use href="#pd" x="64" y="5"/><text class="l" x="5" y="13.300">输入</text><rect class="c" x="12" y="10.500" width="11" height="3"/><text class="x" x="13" y="13.200">prompt</text><text class="l" x="5" y="18.800">输出</text><rect class="c" x="12" y="16" width="10" height="3"/><text class="x" x="13" y="18.800">data</text><rect class="c" x="24" y="16" width="9" height="3"/><text class="x" x="25" y="18.800">msg</text><text class="l" x="5" y="24.300">模型</text><rect x="12" y="21.300" width="3" height="3" fill="#9a7a5a"/><text class="x" x="16" y="24.300">通用-Pro</text><text class="l" x="3" y="29.800">参考图</text><text class="x" x="12" y="29.800">未配置参考图</text></g>
<g id="n-cut1" transform="translate(661,539)"><rect class="card" width="75" height="33" rx="1.500"/><rect width="75" height="9" rx="1.500" fill="url(#gp)"/><rect class="pink" x="2.500" y="2" width="5" height="5"/><text class="t" x="9.500" y="6.400">抠图_1 #</text><use href="#pd" x="64" y="5"/><text class="l" x="2" y="13.500">保留图片前景主体，输出透明背景(.png)</text><text class="l" x="7" y="18.800">输入</text><rect class="c" x="15" y="16" width="7" height="3"/><text class="x" x="16" y="18.800">url</text><rect class="c" x="24" y="16" width="14" height="3"/><text class="x" x="25" y="18.800">only_mask</text><rect class="c" x="41" y="16" width="18" height="3"/><text class="x" x="42" y="18.800">output_mo</text><rect class="c" x="68" y="16" width="4" height="3"/><text class="l" x="7" y="24">输出</text><rect class="c" x="15" y="21.400" width="8" height="3"/><text class="x" x="16" y="24">msg</text><rect class="c" x="26" y="21.400" width="8" height="3"/><text class="x" x="27" y="24">data</text><rect class="c" x="37" y="21.400" width="10" height="3"/><text class="x" x="38" y="24">mask</text><rect class="c" x="50" y="21.400" width="12" height="3"/><text class="x" x="51" y="24">data-ur</text><text class="l" x="2" y="29.500">调用次数</text><text class="x" x="14" y="29.500">按次配额调用</text></g>
<g id="n-cut3" transform="translate(752,553)"><rect class="card" width="75" height="28" rx="1.500"/><rect width="75" height="9" rx="1.500" fill="url(#gp)"/><rect class="pink" x="2.500" y="2" width="5" height="5"/><text class="t" x="9.500" y="6.400">抠图_3 #</text><use href="#pd" x="64" y="5"/><text class="l" x="2" y="13.500">保留图片前景主体，输出透明背景(.png)</text><text class="l" x="2" y="18.800">输入</text><rect class="c" x="10" y="16" width="7" height="3"/><text class="x" x="11" y="18.800">url</text><rect class="c" x="19" y="16" width="14" height="3"/><text class="x" x="20" y="18.800">only_mask</text><rect class="c" x="39" y="16" width="18" height="3"/><text class="x" x="40" y="18.800">output_mo</text><text class="l" x="2" y="24">输出</text><rect class="c" x="10" y="21.400" width="8" height="3"/><text class="x" x="11" y="24">msg</text><rect class="c" x="21" y="21.400" width="8" height="3"/><text class="x" x="22" y="24">data</text><rect class="c" x="32" y="21.400" width="10" height="3"/><text class="x" x="33" y="24">mask</text></g>
</g>

<g id="annotation">
<rect x="15.500" y="143.500" width="1222.500" height="468.500" fill="none" stroke="#e23a30" stroke-width="1.600"/>
<polygon points="736,146 669,252 673,258 654,271 659,249 664,250" fill="#ff2412"/>
<text x="726" y="178.500" font-size="20.800" fill="#f0241a">画布上这些密密麻麻的节点组成了这个工作流</text>
</g>

<g id="toolbar">
<rect x="436" y="631" width="284" height="32" rx="10" fill="#fff" stroke="#e9eaef"/>
<rect x="728" y="631" width="117" height="32" rx="10" fill="#fff" stroke="#e9eaef"/>
<rect x="446" y="642" width="9" height="13" rx="4.500" class="ic"/><path d="M450.500,642v4" class="ic"/>
<path d="M459,647l3,3l3,-3" fill="none" stroke="#444"/>
<rect x="473.500" y="637.500" width="57" height="20" rx="7" fill="#fff" stroke="#dcdde3"/>
<text x="478" y="652" font-size="10.500" fill="#333">25%</text>
<path d="M516,646l4,4l4,-4" fill="none" stroke="#666"/>
<path d="M541,643h10a1,1 0 0 1 1,1v7a1,1 0 0 1 -1,1h-3l-2,2l-2,-2h-3a1,1 0 0 1 -1,-1v-7a1,1 0 0 1 1,-1zM543,647.500h.5M546,647.500h.5M549,647.500h.5" class="ics"/>
<g class="ics"><rect x="569" y="643" width="4" height="4"/><rect x="575" y="643" width="4" height="4"/><rect x="569" y="649" width="4" height="4"/><rect x="575" y="649" width="4" height="4"/></g>
<path d="M606,650v-5a1,1 0 0 0 -1,-1h-8a1,1 0 0 0 -1,1v7a1,1 0 0 0 1,1h6" class="ics"/><circle cx="606" cy="652" r="1.500" class="ics"/>
<path d="M620.500,637v20" stroke="#eceef2"/>
<rect x="625" y="634" width="92" height="27" rx="7" fill="#e6e8fd"/>
<path d="M640,648h7M643.500,644.500v7" stroke="#4d53e8" stroke-width="1.200"/>
<text x="657" y="652" font-size="11.600" font-weight="500" fill="#4d53e8">添加节点</text>
<path d="M741,645l4,-2l6,7l-2,2l-7,-5zM745,643l2,-1" class="ics"/>
<rect x="761" y="634" width="80" height="27" rx="7" fill="#0ab03f"/>
<path d="M777,643.500l7,4l-7,4z" fill="#fff"/>
<text x="793" y="652" font-size="12" font-weight="700" fill="#fff">试运行</text>
</g>

<g id="scrollbars">
<rect x="1269" y="295" width="6" height="315" rx="3" fill="#b0b2b2"/>
<rect x="415" y="670" width="443" height="6" rx="3" fill="#b0b2b2"/>
</g>

<g id="watermark">
<path d="M1225,677a12,12 0 0 1 24,0z" fill="#f47c70"/><circle cx="1233" cy="672" r=".9" fill="#444"/><circle cx="1240" cy="672" r=".9" fill="#444"/>
<text x="1042" y="664" font-size="26.800" fill="#8b8d90" font-family="Open Sans">www.juhaoyc.com</text>
</g>
</svg>
